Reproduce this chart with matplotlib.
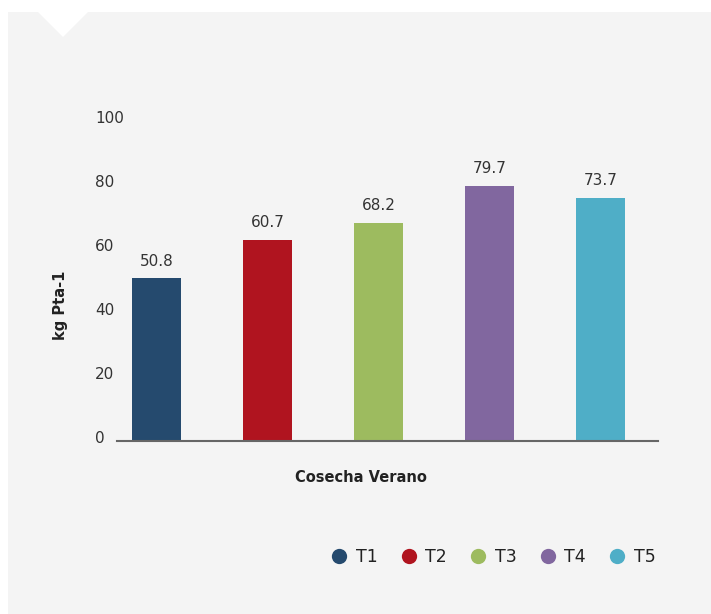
import matplotlib
matplotlib.use("Agg")
import matplotlib.pyplot as plt
from matplotlib.lines import Line2D
from matplotlib.patches import Rectangle, Polygon
from matplotlib.transforms import ScaledTranslation

treatments = ["T1", "T2", "T3", "T4", "T5"]
# bar heights as drawn in the picture (T2 and T5 bars stand taller than their labels)
heights = [50.8, 62.9, 68.2, 79.7, 76.0]
value_labels = ["50.8", "60.7", "68.2", "79.7", "73.7"]
colors = ["#254a6e", "#b0141f", "#9dbb5f", "#81679f", "#4faec7"]
yticks = [0, 20, 40, 60, 80, 100]

W, H = 711, 614
fig = plt.figure(figsize=(W / 100, H / 100), dpi=100, facecolor="white")
plt.rcParams["font.family"] = ["DejaVu Sans"]

# grey panel with the notch at top left
fig.patches.append(Rectangle((8 / W, 0), 1 - 8 / W, 1 - 12 / H, transform=fig.transFigure,
                             facecolor="#f4f4f4", edgecolor="none", zorder=-2))
fig.patches.append(Polygon([(38 / W, 1 - 12 / H), (88 / W, 1 - 12 / H), (63 / W, 1 - 37 / H)],
                           closed=True, transform=fig.transFigure,
                           facecolor="white", edgecolor="none", zorder=-1))

ax = fig.add_axes([117 / W, (H - 441) / H, (658 - 117) / W, 320 / H])
ax.set_zorder(2)
ax.set_facecolor("none")
x = range(len(heights))
bars = ax.bar(x, heights, width=0.44, color=colors)
ax.set_xlim(-0.356, 4.518)
ax.set_ylim(0, 100)
ax.set_yticks(yticks)
ax.set_xticks([])
for s in ["top", "right", "left"]:
    ax.spines[s].set_visible(False)
ax.spines["bottom"].set_color("#666666")
ax.spines["bottom"].set_linewidth(1.5)
ax.tick_params(axis="y", length=0, pad=15.8, labelsize=11, labelcolor="#333333")
for lbl in ax.get_yticklabels():
    lbl.set_horizontalalignment("left")
    lbl.set_transform(lbl.get_transform() + ScaledTranslation(0, 0.04, fig.dpi_scale_trans))

for b, h, txt in zip(bars, heights, value_labels):
    ax.annotate(txt, (b.get_x() + b.get_width() / 2, h), xytext=(0, 17),
                textcoords="offset pixels", ha="center", va="center",
                fontsize=11, color="#333333")

fig.text(61 / W, (H - 305) / H, "kg Pta-1", rotation=90, ha="center", va="center",
         fontsize=10.5, fontweight="bold", color="#222222")
fig.text(361 / W, (H - 477) / H, "Cosecha Verano", ha="center", va="center",
         fontsize=10.5, fontweight="bold", color="#222222")

handles = [Line2D([], [], marker="o", linestyle="none", markersize=11,
                  markerfacecolor=c, markeredgecolor="none") for c in colors]
fig.legend(handles, treatments, loc="center", bbox_to_anchor=(494 / W, (H - 557) / H),
           ncol=5, frameon=False, fontsize=12.5, handlelength=0.8, handletextpad=0.55,
           columnspacing=1.4, labelcolor="#222222")

fig.savefig("out.png", dpi=100, facecolor=fig.get_facecolor())
